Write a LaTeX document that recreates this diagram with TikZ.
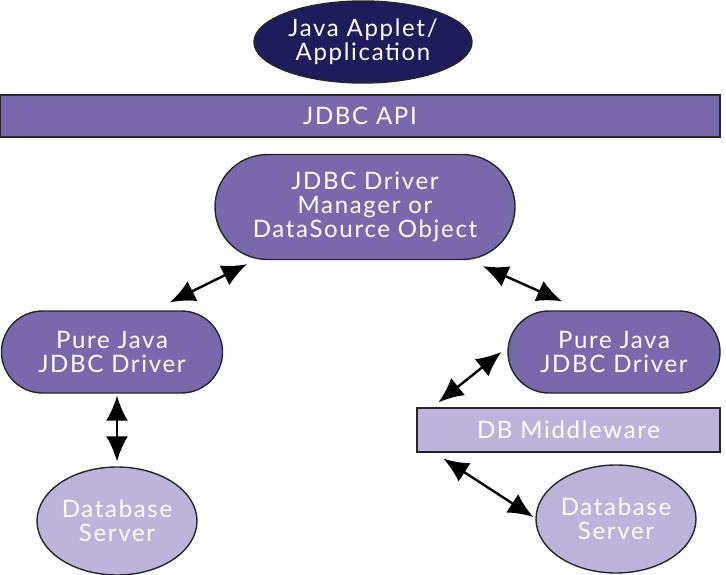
\documentclass[tikz,border=0pt]{standalone}
\usepackage{fontspec}
\setmainfont[LetterSpace=7]{Lato}
\usepackage{tikz}
\usetikzlibrary{shapes.geometric,shapes.misc,arrows.meta}
\usepackage{xcolor}
\definecolor{navy}{HTML}{1F1C5C}
\definecolor{jpurple}{HTML}{7A68AD}
\definecolor{jlilac}{HTML}{BDB4DC}
\tikzset{
    box/.style={
        draw=black!85,
        line width=1.4pt,
        text=white,
        align=center,
        inner sep=0pt,
        font=\fontsize{24}{24}\selectfont
    },
    applet/.style={box,ellipse,fill=navy,minimum width=218pt,minimum height=82pt},
    api/.style={box,rectangle,fill=jpurple,minimum width=720pt,minimum height=42pt},
    mgr/.style={box,rounded rectangle,fill=jpurple,minimum width=300pt,minimum height=105pt},
    drv/.style={box,rounded rectangle,fill=jpurple,minimum height=82pt},
    dbs/.style={box,ellipse,fill=jlilac,minimum width=160pt,minimum height=108pt},
    mw/.style={box,rectangle,fill=jlilac,minimum width=303pt,minimum height=44pt},
    tip/.style={arrows={Latex[length=25pt,width=22pt]-Latex[length=25pt,width=22pt]}},
    dbl/.style={tip,line width=2.4pt}
}

\begin{document}
\begin{tikzpicture}[x=1pt,y=-1pt]
    \useasboundingbox (0,0) rectangle (726,575);
    \node[applet] (app) at (363,42) {Java Applet/\\Application};
    \node[api] (api) at (360,116) {JDBC API};
    \node[mgr] (mgr) at (365,207) {JDBC Driver\\Manager or\\DataSource Object};
    \node[drv,minimum width=221pt] (ldrv) at (112,352) {Pure Java\\JDBC Driver};
    \node[drv,minimum width=212pt] (rdrv) at (614,352) {Pure Java\\JDBC Driver};
    \node[mw] (mw) at (568.5,430) {DB Middleware};
    \node[dbs] (ldb) at (117,521) {Database\\Server};
    \node[dbs] (rdb) at (616,519) {Database\\Server};
    % connectors
    \draw[dbl] ([shift={(-118,4)}]mgr.south) -- ([shift={(58,-8)}]ldrv.north);
    \draw[dbl] ([shift={(118,6)}]mgr.south) -- ([shift={(-52,-9)}]rdrv.north);
    \draw[dbl] ([shift={(5,2)}]ldrv.south) -- ([shift={(0,-5)}]ldb.north);
    \draw[dbl] ([shift={(-6,0)}]rdrv.west) -- ([shift={(-130,-5)}]mw.north);
    \draw[dbl] ([shift={(-125,6)}]mw.south) -- ([shift={(-2,-2)}]rdb.west);
\end{tikzpicture}
\end{document}
